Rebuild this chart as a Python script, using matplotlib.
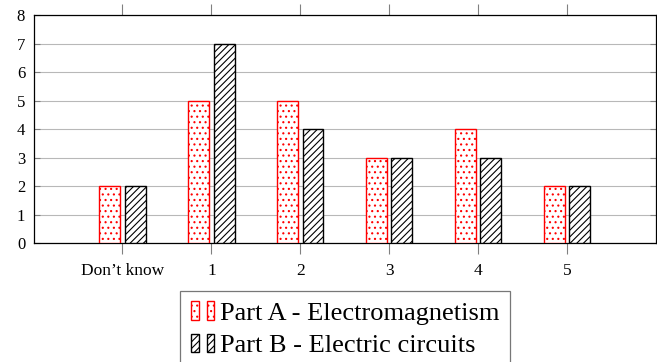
import numpy as np
import matplotlib.pyplot as plt
from matplotlib.patches import Patch
from matplotlib.legend_handler import HandlerTuple

plt.rcParams['font.family'] = ['Liberation Serif', 'DejaVu Serif']
plt.rcParams['hatch.linewidth'] = 0.8

categories = ["Don\u2019t know", "1", "2", "3", "4", "5"]
part_a = [2, 5, 5, 3, 4, 2]
part_b = [2, 7, 4, 3, 3, 2]

x = np.arange(len(categories))
w = 0.235
off = 0.143

fig = plt.figure(figsize=(6.57, 3.62), dpi=100)
ax = fig.add_axes([33.5/657, 1-243.3/362, (656-33.5)/657, (243.3-15)/362])

ax.bar(x - off, part_a, w, color='white', edgecolor='red', hatch='...', linewidth=1.0, zorder=3)
ax.bar(x + off, part_b, w, color='white', edgecolor='black', hatch='/////', linewidth=1.0, zorder=3)

ax.set_xlim(-1.0, 6.0)
ax.set_ylim(0, 8)
ax.set_yticks(range(9))
ax.set_xticks(x)
ax.set_xticklabels(categories)
ax.grid(axis='y', color='#b8b8b8', linewidth=0.8, zorder=0)
ax.tick_params(axis='y', direction='in', left=True, right=True, length=4, color='#808080', labelsize=12, pad=6)
ax.tick_params(axis='x', direction='out', top=True, bottom=True, length=8, color='#808080', labelsize=12.5, pad=6)
for s in ax.spines.values():
    s.set_linewidth(0.9)

ha = (Patch(facecolor='white', edgecolor='red', hatch='...'), Patch(facecolor='white', edgecolor='red', hatch='...'))
hb = (Patch(facecolor='white', edgecolor='black', hatch='/////'), Patch(facecolor='white', edgecolor='black', hatch='/////'))
leg = fig.legend([ha, hb], ['Part A - Electromagnetism', 'Part B - Electric circuits'],
                 handler_map={tuple: HandlerTuple(ndivide=None, pad=0.3)},
                 loc='upper center', bbox_to_anchor=(345/657, 1-290.7/362), borderaxespad=0,
                 fontsize=19, frameon=True, fancybox=False, edgecolor='#555555',
                 handlelength=0.9, handleheight=0.7, handletextpad=0.2,
                 labelspacing=0.35, borderpad=0.4)
leg.get_frame().set_linewidth(0.9)

fig.savefig('out.png', dpi=100)
